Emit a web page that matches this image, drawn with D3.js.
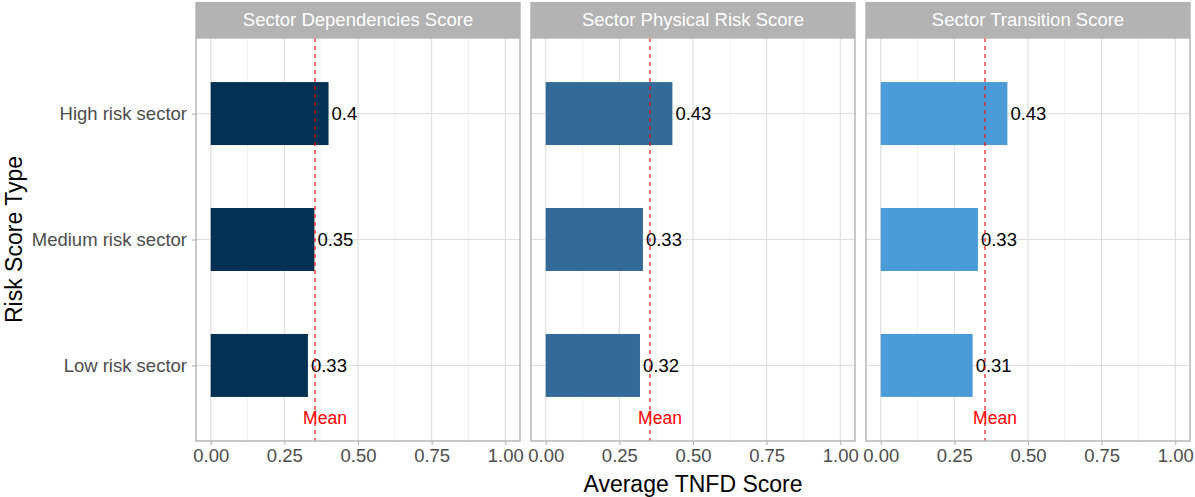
<!DOCTYPE html>
<html><head><meta charset="utf-8">
<script src="https://cdn.jsdelivr.net/npm/d3@7"></script>
<style>body{margin:0;background:#fff;} text{font-family:"Liberation Sans",Arial,sans-serif;}</style>
</head><body><svg id="c" width="1195" height="497"></svg>
<script>
const categories = ["High risk sector", "Medium risk sector", "Low risk sector"];
const panels = ["Sector Dependencies Score", "Sector Physical Risk Score", "Sector Transition Score"];
const dependencies = [0.40, 0.352, 0.33];
const physical = [0.43, 0.33, 0.32];
const transition = [0.43, 0.33, 0.312];
const labels = [["0.4","0.35","0.33"],["0.43","0.33","0.32"],["0.43","0.33","0.31"]];
const colors = ["#023154", "#346A97", "#4A9BD8"];
const meanValue = 0.354;
const xTicks = [0, 0.25, 0.5, 0.75, 1.0];
const xMinor = [0.125, 0.375, 0.625, 0.875];
const series = [dependencies, physical, transition];

const svg = d3.select("#c");
const pTop = 38, pBottom = 441, stripTop = 2;
const panelW = 324, gap = 11, left0 = 196;
const fs = 18.5;

const y = d3.scalePoint().domain(categories).range([pTop, pBottom]).padding(0.6);
const barH = y.step() * 0.5;

panels.forEach((title, i) => {
  const x0 = left0 + i * (panelW + gap);
  const x = d3.scaleLinear().domain([-0.05, 1.05]).range([x0, x0 + panelW]);
  const g = svg.append("g");
  // grid
  g.selectAll(".mn").data(xMinor).join("line")
    .attr("x1", d => x(d)).attr("x2", d => x(d)).attr("y1", pTop).attr("y2", pBottom)
    .attr("stroke", "#EDEDED").attr("stroke-width", 0.7);
  g.selectAll(".mj").data(xTicks).join("line")
    .attr("x1", d => x(d)).attr("x2", d => x(d)).attr("y1", pTop).attr("y2", pBottom)
    .attr("stroke", "#DEDEDE").attr("stroke-width", 1.1);
  g.selectAll(".hy").data(categories).join("line")
    .attr("x1", x0).attr("x2", x0 + panelW).attr("y1", d => y(d)).attr("y2", d => y(d))
    .attr("stroke", "#DEDEDE").attr("stroke-width", 1.1);
  // bars
  const vals = series[i];
  g.selectAll(".bar").data(categories).join("rect")
    .attr("x", x(0)).attr("y", d => y(d) - barH / 2)
    .attr("width", (d, j) => x(vals[j]) - x(0)).attr("height", barH)
    .attr("fill", colors[i]);
  g.selectAll(".lab").data(categories).join("text")
    .attr("x", (d, j) => x(vals[j]) + 3).attr("y", d => y(d))
    .attr("dy", "0.35em").attr("font-size", fs).attr("fill", "#000")
    .text((d, j) => labels[i][j]);
  // mean line
  g.append("line").attr("x1", x(meanValue)).attr("x2", x(meanValue))
    .attr("y1", pTop).attr("y2", pBottom)
    .attr("stroke", "#FF0000").attr("stroke-width", 1.1).attr("stroke-dasharray", "4,4");
  g.append("text").attr("x", x(meanValue) + 10).attr("y", 418).attr("dy", "0.35em")
    .attr("text-anchor", "middle").attr("font-size", 17.5).attr("fill", "#FF0000").text("Mean");
  // border
  g.append("rect").attr("x", x0).attr("y", pTop).attr("width", panelW).attr("height", pBottom - pTop)
    .attr("fill", "none").attr("stroke", "#B3B3B3").attr("stroke-width", 1.4);
  // strip
  g.append("rect").attr("x", x0 - 0.7).attr("y", stripTop).attr("width", panelW + 1.4).attr("height", pTop - stripTop)
    .attr("fill", "#B3B3B3");
  g.append("text").attr("x", x0 + panelW / 2).attr("y", (stripTop + pTop) / 2).attr("dy", "0.35em")
    .attr("text-anchor", "middle").attr("font-size", fs).attr("fill", "#FFFFFF").text(title);
  // x axis
  const ax = d3.axisBottom(x).tickValues(xTicks).tickFormat(d3.format(".2f")).tickSize(4).tickPadding(4);
  const axg = svg.append("g").attr("transform", `translate(0,${pBottom})`).call(ax);
  axg.select(".domain").remove();
  axg.selectAll(".tick line").attr("stroke", "#B3B3B3").attr("stroke-width", 1.1);
  axg.selectAll(".tick text").attr("font-size", fs).attr("fill", "#4D4D4D")
    .attr("font-family", '"Liberation Sans",Arial,sans-serif');
});

// y axis
const ay = d3.axisLeft(y).tickSize(4).tickPadding(5);
const ayg = svg.append("g").attr("transform", `translate(${left0},0)`).call(ay);
ayg.select(".domain").remove();
ayg.selectAll(".tick line").attr("stroke", "#B3B3B3").attr("stroke-width", 1.1);
ayg.selectAll(".tick text").attr("font-size", fs).attr("fill", "#4D4D4D")
  .attr("font-family", '"Liberation Sans",Arial,sans-serif');

// titles
svg.append("text").attr("x", left0 + (3 * panelW + 2 * gap) / 2).attr("y", 492)
  .attr("text-anchor", "middle").attr("font-size", 23).attr("fill", "#000").text("Average TNFD Score");
svg.append("text").attr("transform", `translate(22,${(pTop + pBottom) / 2}) rotate(-90)`)
  .attr("text-anchor", "middle").attr("font-size", 23).attr("fill", "#000").text("Risk Score Type");
</script></body></html>
